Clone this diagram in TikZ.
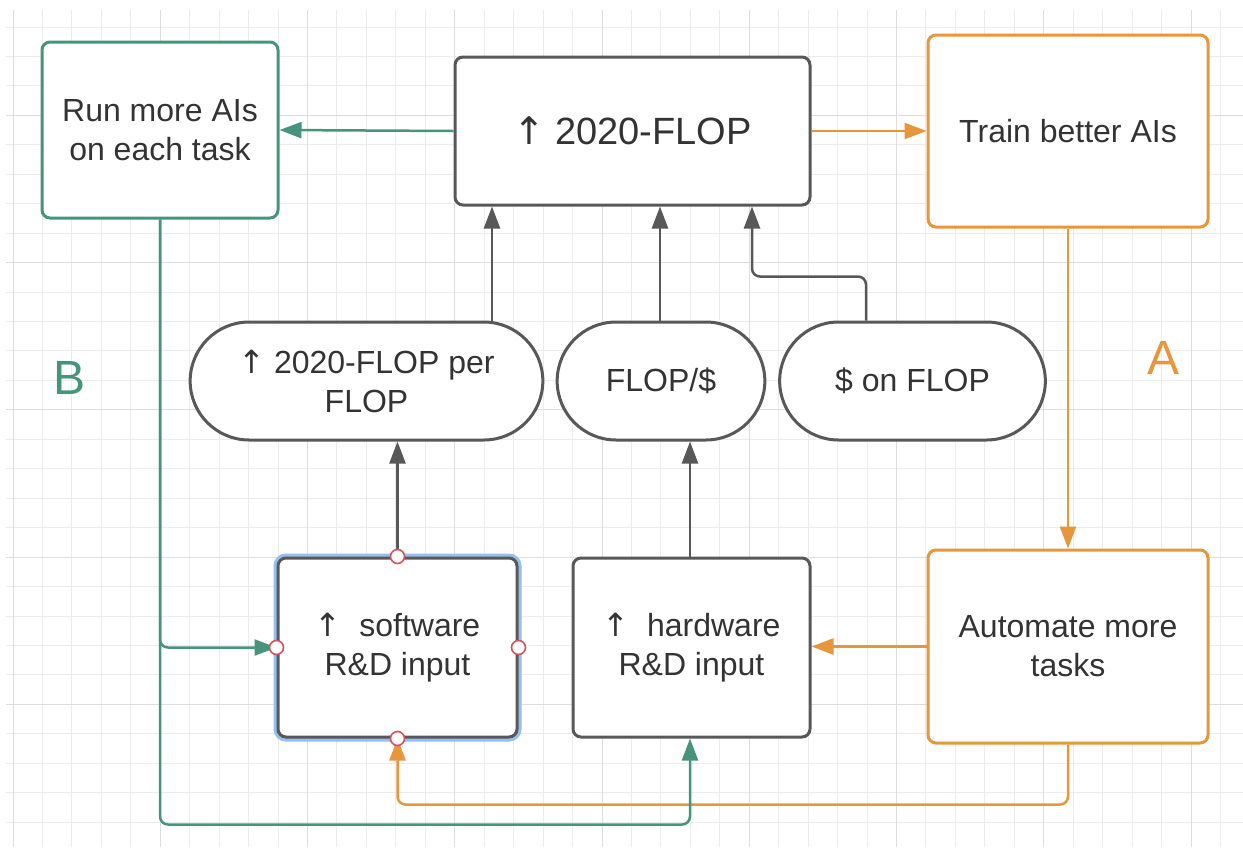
\documentclass[tikz,border=0pt]{standalone}
\usepackage{fontspec}
\setmainfont{Liberation Sans}
\newfontfamily\arrowfont{DejaVu Sans}
\newcommand\upmark{{\arrowfont ↑}}
\usetikzlibrary{arrows.meta,positioning,shapes.misc,calc}
\definecolor{loopgreen}{RGB}{70,148,124}
\definecolor{looporange}{RGB}{232,150,60}
\definecolor{boxgray}{RGB}{88,88,88}
\definecolor{textgray}{RGB}{51,51,51}
\definecolor{gridminor}{RGB}{236,236,236}
\definecolor{gridmajor}{RGB}{222,222,222}
\definecolor{selblue}{RGB}{150,190,240}
\definecolor{handlered}{RGB}{208,84,96}
\tikzset{
  block/.style={rectangle,rounded corners=4pt,draw=boxgray,line width=1.5pt,fill=white,text=textgray,font=\fontsize{16}{19.5}\selectfont,align=center,inner sep=2pt},
  pill/.style={rounded rectangle,draw=boxgray,line width=1.5pt,fill=white,text=textgray,font=\fontsize{16}{19.5}\selectfont,align=center,minimum height=59pt},
  link/.style={line width=1.25pt,rounded corners=4pt,-{Triangle[length=11pt,width=8pt]}},
  handle/.style={circle,draw=handlered,fill=white,line width=0.8pt,minimum size=7pt,inner sep=0pt}
}

\begin{document}
\begin{tikzpicture}[x=0.5pt,y=-0.5pt]
  \useasboundingbox[fill=white] (0,0) rectangle (1243,847);
  \foreach \k in {0,...,41}
    \draw[gridminor,line width=0.5pt] ({13+29.45*\k},10) -- ({13+29.45*\k},847);
  \foreach \k in {0,...,27}
    \draw[gridminor,line width=0.5pt] (6,{27+29.45*\k}) -- (1243,{27+29.45*\k});
  \foreach \k in {0,5,...,40}
    \draw[gridmajor,line width=0.5pt] ({13+29.45*\k},10) -- ({13+29.45*\k},847);
  \foreach \k in {3,8,...,23}
    \draw[gridmajor,line width=0.5pt] (6,{27+29.45*\k}) -- (1243,{27+29.45*\k});

  \node[block,draw=loopgreen,minimum width=118pt,minimum height=88pt] (run) at (160,130) {Run more AIs\\on each task};
  \node[block,minimum width=177.5pt,minimum height=74pt,font=\fontsize{19}{23}\selectfont] (flop) at (632.5,131) {\upmark\ 2020-FLOP};
  \node[block,draw=looporange,minimum width=140pt,minimum height=96pt] (train) at (1068,131) {Train better AIs};

  \node[pill,minimum width=183pt] (eff) at (366.5,381) {\upmark\ 2020-FLOP per\\FLOP};
  \node[pill,minimum width=110.5pt] (price) at (661,381) {FLOP/\$};
  \node[pill,minimum width=139.5pt] (spend) at (912.5,381) {\$ on FLOP};

  \node[block,minimum width=119.5pt,minimum height=89.5pt,preaction={draw=selblue,line width=4.5pt}] (soft) at (397.5,647.5) {\upmark\ \ software\\R\&D input};
  \node[block,minimum width=118.5pt,minimum height=89.5pt] (hard) at (691.5,647.5) {\upmark\ \ hardware\\R\&D input};
  \node[block,draw=looporange,minimum width=140pt,minimum height=96.5pt] (auto) at (1068,646.5) {Automate more\\tasks};

  \node[text=loopgreen,font=\fontsize{24}{28}\selectfont] (loopB) at (70,378) {B};
  \node[text=looporange,font=\fontsize{24}{28}\selectfont] (loopA) at (1163,358) {A};

  \draw[link,loopgreen] (flop.west) -- (run.east);
  \draw[link,looporange] (flop.east) -- (train.west);
  \draw[link,boxgray] ([xshift=62.75pt]eff.north) -- ([xshift=62.75pt]eff.north |- flop.south);
  \draw[link,boxgray] ([xshift=-0.5pt]price.north) -- ([xshift=-0.5pt]price.north |- flop.south);
  \draw[link,boxgray] ([xshift=-23.25pt]spend.north) -- ++(0,-44) -| ([xshift=59.75pt]flop.south);
  \draw[link,boxgray] (soft.north) -- (soft.north |- eff.south);
  \draw[link,boxgray] ([xshift=-0.75pt]hard.north) -- ([xshift=-0.75pt]hard.north |- price.south);
  \draw[link,looporange] (train.south) -- (auto.north);
  \draw[link,looporange] (auto.west) -- (auto.west -| hard.east);
  \draw[link,looporange] (auto.south) -- ++(0,60) -| (soft.south);
  \draw[link,loopgreen] (run.south) |- (soft.west);
  \draw[link,loopgreen] (run.south) -- ++(0,605) -| ([xshift=-0.75pt]hard.south);

  \foreach \a in {north,south,east,west}
    \node[handle] (grip-\a) at (soft.\a) {};
\end{tikzpicture}
\end{document}
